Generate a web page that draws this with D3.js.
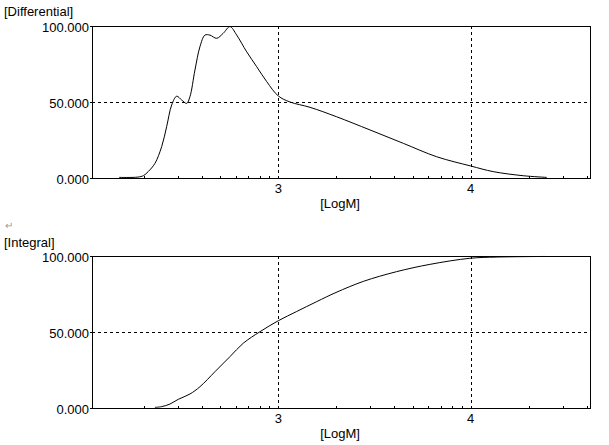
<!DOCTYPE html>
<html>
<head>
<meta charset="utf-8">
<script src="https://cdn.jsdelivr.net/npm/d3@7"></script>
<style>
  html, body { margin: 0; padding: 0; background: #fff; }
  svg { display: block; }
  text { font-family: "Liberation Sans", Arial, sans-serif; font-size: 13px; fill: #000; }
</style>
</head>
<body>
<svg id="chart" width="609" height="445"></svg>
<script>
// ---- Data ----
const diffLogM = [2.173, 2.27, 2.30, 2.324, 2.359, 2.394, 2.42, 2.446, 2.472, 2.498, 2.524, 2.541, 2.567, 2.593, 2.619, 2.645, 2.68, 2.714, 2.749, 2.784, 2.836, 2.888, 2.94, 3.0, 3.061, 3.165, 3.303, 3.477, 3.65, 3.823, 4.0, 4.117, 4.273, 4.395];
const diffValues = [0.4, 0.6, 1.6, 4.2, 9.6, 20.6, 33.8, 48, 53.8, 51.3, 49.1, 53.5, 71, 86.4, 94, 94, 91.9, 95.2, 99.6, 94, 83, 73.2, 63.4, 54, 50, 46.5, 40.3, 31.6, 22.8, 14, 7.9, 4.2, 1.5, 0.4];

const intLogM = [2.359, 2.394, 2.437, 2.48, 2.541, 2.593, 2.671, 2.749, 2.818, 2.905, 3.0, 3.096, 3.2, 3.3, 3.442, 3.615, 3.788, 3.996, 4.135, 4.387];
const intValues = [0.4, 0.9, 2.6, 5.7, 9.2, 14, 23.9, 33.8, 42.6, 50.2, 57.4, 63.5, 70, 76, 83.3, 89.7, 94.5, 98.5, 99.3, 99.7];

const xDomain = [2.032, 4.62];
const majorTicks = [3, 4];
const minorTicks = [2.30103, 2.47712, 2.60206, 2.69897, 2.77815, 2.84510, 2.90309, 2.95424,
                    3.30103, 3.47712, 3.60206, 3.69897, 3.77815, 3.84510, 3.90309, 3.95424,
                    4.30103, 4.47712, 4.60206];
const yTicks = [0, 50, 100];
const yTickLabels = ["0.000", "50.000", "100.000"];

const panels = [
  { title: "[Differential]", xs: diffLogM, ys: diffValues, top: 26, bottom: 178, titleY: 16 },
  { title: "[Integral]",     xs: intLogM,  ys: intValues,  top: 256, bottom: 408, titleY: 247 }
];

const svg = d3.select("#chart");
const left = 92, right = 590;
const x = d3.scaleLinear().domain(xDomain).range([left, right]);

// paragraph mark between panels
svg.append("text").attr("x", 5).attr("y", 229).style("fill", "#999").style("font-size", "10px").text("\u21B5");

panels.forEach(p => {
  const y = d3.scaleLinear().domain([0, 100]).range([p.bottom, p.top]);
  const g = svg.append("g");

  g.append("text").attr("x", 4).attr("y", p.titleY).text(p.title);

  // horizontal dashed grid at 50
  g.append("line")
    .attr("x1", left).attr("x2", right)
    .attr("y1", Math.round(y(50)) + 0.5).attr("y2", Math.round(y(50)) + 0.5)
    .attr("stroke", "#000").attr("stroke-dasharray", "3,3");

  // vertical dashed grid at major ticks
  majorTicks.forEach(t => {
    g.append("line")
      .attr("x1", Math.round(x(t)) + 0.5).attr("x2", Math.round(x(t)) + 0.5)
      .attr("y1", p.top).attr("y2", p.bottom)
      .attr("stroke", "#000").attr("stroke-dasharray", "3,3");
  });

  // frame
  g.append("rect")
    .attr("x", left + 0.5).attr("y", p.top + 0.5)
    .attr("width", right - left).attr("height", p.bottom - p.top)
    .attr("fill", "none").attr("stroke", "#000");

  // minor ticks (inward)
  minorTicks.filter(t => t > xDomain[0] && t < xDomain[1]).forEach(t => {
    g.append("line")
      .attr("x1", Math.round(x(t)) + 0.5).attr("x2", Math.round(x(t)) + 0.5)
      .attr("y1", p.bottom + 0.5).attr("y2", p.bottom - 2)
      .attr("stroke", "#000");
  });

  // x labels
  majorTicks.forEach(t => {
    g.append("text").attr("x", x(t)).attr("y", p.bottom + 15)
      .attr("text-anchor", "middle").text(String(t));
  });
  g.append("text").attr("x", 340).attr("y", p.bottom + 30)
    .attr("text-anchor", "middle").text("[LogM]");

  // y ticks + labels
  yTicks.forEach((t, i) => {
    const yy = Math.round(y(t)) + 0.5;
    g.append("line").attr("x1", left - 2).attr("x2", left + 0.5)
      .attr("y1", yy).attr("y2", yy).attr("stroke", "#000");
    g.append("text").attr("x", 89).attr("y", y(t) + 6)
      .attr("text-anchor", "end").text(yTickLabels[i]);
  });

  // curve
  const line = d3.line()
    .x((d, i) => x(p.xs[i]))
    .y((d, i) => y(p.ys[i]))
    .curve(d3.curveCatmullRom.alpha(0.5));
  g.append("path").datum(p.ys)
    .attr("d", line)
    .attr("fill", "none").attr("stroke", "#000").attr("stroke-width", 1);
});
</script>
</body>
</html>
